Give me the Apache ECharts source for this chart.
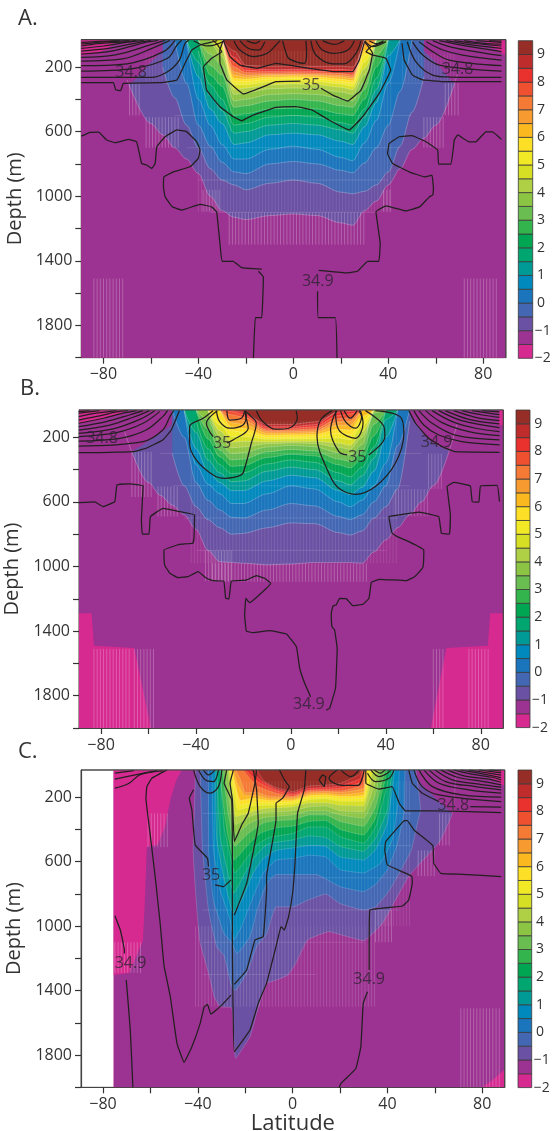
<!DOCTYPE html>
<html><head><meta charset="utf-8"><style>html,body{margin:0;padding:0;background:#fff}#c{width:552px;height:1131px}</style>
<script src="https://cdn.jsdelivr.net/npm/echarts@6/dist/echarts.min.js"></script></head><body><div id="c"></div>
<script>
const s=31;
const bandLows=[-2,-1.5,-1,-0.5,0,0.5,1,1.5,2,2.5,3,3.5,4,4.5,5,5.5,6,6.5,7,7.5,8,8.5,9];
const bandColors=['#d62a91','#9c3291','#6a51a3','#4367b3','#1a75bc','#0089bd','#009a96','#00a670','#00a651','#33b44c','#6abd50','#8cc543','#afcf45','#d7df25','#f2e926','#fde025','#fbb81f','#f79a2f','#f47a35','#ef5030','#e9312d','#bf2c2c','#962d26'];
const levels=[-1,-0.5,0,0.5,1,1.5,2,2.5,3,3.5,4,4.5,5,5.5,6,6.5,7,7.5,8,8.5,9];
const xTicks=[-80,-60,-40,-20,0,20,40,60,80], xLabels=[-80,-40,0,40,80];
const yTicks=[200,400,600,800,1000,1200,1400,1600,1800,2000], yLabels=[200,600,1000,1400,1800];
const cbLabels=[-2,-1,0,1,2,3,4,5,6,7,8,9];
const gridLat=[-70,-60,-55,-50,-45,-40,-35,-30,-25,-20,-10,0,10,20,25,30,35,40,45,50,55,60,70];

// isotherm depth (m) on gridLat, first entry = index of first latitude
const isoA=[
[0,280,550,620,700,770,860,1000,1090,1130,1145,1120,1110,1120,1165,1180,1090,1030,930,830,710,640,560,200],
[2,200,390,560,700,830,900,930,960,920,900,920,975,985,970,930,850,690,480,260],
[3,s,300,560,690,790,850,860,800,785,800,840,855,795,700,560,350,s],
[4,s,400,560,680,770,770,710,690,710,760,780,670,530,300,s],
[4,s,260,460,550,680,670,620,610,620,660,680,570,420,130,s],
[4,s,170,380,470,610,600,560,550,560,590,610,510,340,s],
[5,100,310,400,560,550,510,500,510,545,560,460,270,s],
[5,s,250,320,500,490,460,455,460,490,500,400,200,s],
[5,s,190,250,450,440,410,400,410,440,450,340,130,s],
[5,s,120,190,410,400,370,365,370,395,410,290,s],
[6,s,135,370,360,335,330,335,355,370,250,s],
[6,s,95,340,330,310,305,310,325,340,210,s],
[7,55,310,310,290,285,290,305,320,170,s],
[7,s,290,290,275,270,275,290,300,130,s],
[7,s,270,275,262,260,262,275,285,100,s],
[7,s,250,262,252,250,252,262,272,70,s],
[7,s,230,250,247,245,247,252,262,s],
[7,s,200,235,237,235,237,240,250,s],
[7,s,170,220,228,225,228,228,235,s],
[7,s,140,205,217,215,217,215,220,s],
[7,s,100,190,196,194,196,195,200,s]];
const isoB=[
[0,170,480,560,620,680,770,900,970,975,980,990,985,975,975,975,980,910,835,760,680,600,500,120],
[3,300,500,630,710,760,800,795,760,730,735,790,805,780,700,630,520,100],
[3,s,200,480,590,650,695,700,650,610,625,690,710,680,600,500,250,s],
[4,s,370,490,550,610,610,550,500,520,600,630,590,500,360,s],
[4,s,270,410,480,530,530,470,435,450,530,555,510,410,200,s],
[4,s,170,340,420,475,470,410,385,400,470,495,440,330,90,s],
[5,100,270,370,425,420,365,340,355,420,445,385,260,s],
[5,s,210,320,380,375,325,305,315,370,390,335,190,s],
[5,s,150,280,340,335,290,275,285,335,350,290,120,s],
[5,s,90,235,300,295,260,250,258,295,310,245,50,s],
[6,s,195,265,260,240,235,238,262,275,200,s],
[6,s,160,230,225,228,225,225,235,250,165,s],
[6,s,125,195,195,212,210,210,205,215,130,s],
[6,s,90,160,170,200,200,197,175,185,100,s],
[7,s,135,145,187,185,182,150,155,70,s],
[7,s,110,120,175,175,170,125,125,s],
[7,s,90,95,165,165,160,105,100,s],
[7,s,60,75,155,155,148,85,80,s],
[7,s,40,60,145,145,135,65,55,s],
[8,s,45,135,135,122,45,40,s],
[9,s,120,120,105,s]];
// panel C: lat,depth pairs
const isoC=[
[-41,31,-41.5,300,-42,527,-40.4,900,-39,1105,-35.5,1290,-33,1440,-30.6,1500,-25.7,1507,-24,1820,-18,1687,-15,1532,-11,1355,-7,1335,-2,1303,1.4,1230,6.3,1086,15.4,1034,22,1060,30,1090,38,980,49,690,59,527,62.5,465,67.4,300,69,60],
[-39,31,-38,527,-35.5,900,-32,1130,-29,1180,-25.7,1375,-24.3,1400,-19,1280,-15,1120,-11,1050,-7,880,0,880,7,835,14,800,20,860,30,900,35,880,41,775,50,530,53,340,54,280,52,31],
[-35.5,31,-35.5,527,-33.4,840,-29,1045,-25.7,1100,-24.3,1150,-23.6,1170,-18,1065,-15,900,-11,735,-7,680,0,680,10,680,20,755,30,785,35,740,40,650,44,500,47,300,47.4,31],
[-34,31,-33.4,527,-30.6,775,-26.4,960,-24.7,1085,-21.5,1000,-16.6,815,-12.4,670,-7,590,0,580,7,560,14,570,20,650,30,670,37,610,42,465,44.5,235,45,31],
[-32.7,31,-32,465,-28.5,735,-25,920,-21.5,840,-16.6,670,-12.4,580,-7,530,0,515,7,500,14,505,20,570,30,590,35,525,40,360,43,31],
[-32,31,-30.6,445,-27,690,-24.7,795,-20.8,690,-16,570,-11,495,-7,480,0,465,7,440,14,450,20,505,30,535,35,455,40,280,42,31],
[-30.6,31,-29,380,-25.7,610,-24.3,670,-20,590,-15,495,-10,450,0,425,7,385,14,385,20,445,30,485,35,385,40,120,41,31],
[-30.3,31,-30,150,-27.8,400,-24.6,590,-19.4,505,-13.8,425,-7,390,0,380,7,350,14,345,20,400,30,435,35,330,40,31],
[-29.5,31,-29,100,-27,320,-24.3,505,-18.7,425,-12.4,360,-7,345,0,340,7,310,14,310,20,350,30,380,35,260,39,31],
[-28.5,31,-28,100,-26,300,-24,430,-18,360,-12,325,0,310,7,285,14,285,20,310,30,330,35,180,37,31],
[-27.5,31,-25.5,270,-24,370,-18,320,-12,295,0,285,7,260,14,255,20,285,30,290,35,100,36,31],
[-27,31,-25,220,-24,320,-17,290,-12,270,0,260,7,235,14,235,20,250,30,255,34,31],
[-26.5,31,-24.5,200,-23,280,-17,255,-12,250,0,245,7,215,14,210,20,225,30,225,33,31],
[-26,31,-24,160,-22,250,-16,230,-10,235,0,230,7,200,14,200,20,210,30,205,32,31],
[-25.5,31,-24,130,-22,220,-16,205,-10,220,0,220,7,190,14,185,20,195,30,185,31,31],
[-25,31,-23.5,110,-20,190,-15,190,-10,210,0,210,7,180,14,175,20,185,30,165,31,31],
[-24,31,-22,90,-20,170,-15,170,-10,195,0,200,7,170,14,165,20,170,30,145,30.5,31],
[-21,31,-15,130,-7,175,0,195,7,160,14,160,20,160,29.5,125,30,31],
[-20,31,-14,110,-7,160,0,185,7,155,14,150,20,145,29,105,29.8,31],
[-18,31,-13,100,-7,150,0,175,7,145,14,140,20,130,28.5,85,29.5,31],
[-15,31,-12,100,-7,140,0,165,7,130,14,125,20,115,28,60,29,31]];

// coldest water outline and purple / pink patches
const baseA=[-89.3,2000,89.5,2000], baseB=[-89.3,2000,89.5,2000], baseC=[-75.5,2000,89.5,2000];
const coldA=[-89.3,2000,89.5,2000];
const coldB=[-89.3,1290,-84,1290,-83,1490,-66,1505,-59,2000,59,2000,65.5,1505,83,1490,84,1290,89.5,1290];
const coldC=[-75.5,2000,80,2000,84,1960,89.5,1890];
const pinkOverC=[[-75.5,1303,-69,1290,-63.2,1090,-62.5,900,-61.5,507,-57,496,-53.8,383,-51.6,216,-49,90,-46.7,31]];
const capsA=[[-71,300,-69,300,-60,170,-52,60,-48,31],[48,31,52,60,60,170,68.5,300,71,300]];
const capsB=[[-71,300,-67.2,289,-59.5,217,-49.7,113,-48.3,31],[49.7,31,51,72,56.7,196,64.4,270,71,290]];
const capsC=[[50,31,53,100,60,200,67.4,300,70,310]];
const pinkTopA=[[-89.3,130,-80,100,-74,31],[80,31,89.5,130]];
const pinkTopB=[[-89.3,110,-80,90,-68,31],[87.6,125,89.5,125]];
const pinkTopC=[[78,31,89.5,130]];

// salinity contours: lat,depth pairs
const deepA=[
[-89.3,628,-85.6,605,-82,603,-78.6,652,-75,669,-69.5,648,-66,663,-63.9,797,-61.8,807,-59.6,828,-58.2,797,-57.5,694,-54,632,-49,590,-45,600,-40.7,663,-39.3,714,-40,766,-43.5,818,-50.5,849,-54.5,880,-54.7,942,-54,1004,-51,1066,-47,1086,-39.3,1051,-34.4,1066,-32.3,1097,-30.9,1293,-30,1403,-25.3,1403,-21.8,1442,-13.3,1452],
[-14.7,1465,-12.6,1500,-13.3,1752,-16,1752,-16.8,2002],
[18.4,2002,17.7,1752,10.5,1752,10.2,1589],
[10.7,1460,22,1475,27,1465,31.3,1403,36,1403,36.6,1293,34.8,1097,39,1060,47.5,1091,53.2,1066,57.3,1004,58.7,993,59,950,58.4,870,55.2,880,48.8,849,41.8,797,39.7,735,40.4,673,44.6,632,50,625,55.9,663,60.8,714,61.2,801,66.4,801,67.8,652,69.2,621,74,663,76.9,663,81.1,601,83.9,601,87.7,648],
[-89.3,297,-75.8,297,-74.8,342,-72.7,347,-71.6,301,-56,297,-49,280,-45.6,177,-42.8,95,-39.3,64,-32,37],
[45.8,53,46.7,157,50.2,250,54.5,280,63,290,87.7,290],
[-37.9,198,-36.5,343,-30.9,446,-25.3,508,-21.8,533,-16.8,497,-7.3,450,1,446,8,467,15,528,23.6,590,29.2,508,36.2,363,41,219,39,146,33.4,126,30.6,105,32.7,74,38,44],
[-37.9,198,-34.4,146,-30.2,105,-32,60,-34,35],
[-30.9,177,-28,280,-21,367,-12.6,322,-7.3,291,3,288],
[11.6,332,16.6,374,22.9,411,28.5,343,32,219,33.4,115,30,43],
[-30.9,177,-31,100,-29.5,37,-26.7,136,-22.5,188,-15.4,208,-7.3,177,-1,190,6.7,208,18,229,25,229,27.8,157,30,43]];
const curvesA=[
[-25,37,-22.5,95,-16.8,136,-11,115,-7.3,64,-5.6,37],[-22.5,37,-19,84,-14.7,95,-12,43],[-19.6,37,-16,53,-14,37],
[-4.5,37,-3,115,-1.7,150,4.6,177,5.6,120,5.3,37],[7.4,37,9.5,126,16.6,180,21.5,180,26.4,115,28.5,37],[9.5,37,12.3,95,17.3,115,23,95,25.7,37],[12.3,37,17.3,60,21.5,37],
[-42,37,-36,70,-32,58,-29,37],[30,37,33.4,74,39,43],[32,37,35,55,38,37],
[-89.3,264,-60,264,-53,229,-48,157,-45.6,53,-44,35],[-89.3,225,-67,208,-53,146,-49,64,-47,35],[-89.3,192,-70,180,-54.7,105,-49.8,35],[-89.3,163,-72,150,-58,75,-52,35],[-89.3,140,-75,125,-60,62,-54,35],[-89.3,120,-76,100,-63,50,-57,35],[-89.3,101,-78,85,-66,50,-60,35],[-89.3,85,-80,70,-69,45,-63,35],[-89.3,70,-82,55,-71,45,-66,35],[-89.3,58,-84,50,-74,40,-69,35],[-89.3,48,-82,42,-73,35],
[48,44,51.6,167,58.7,250,66,262,87.7,264],[50.2,44,54.5,126,61.5,188,87.7,225],[53,44,58.7,105,65.7,157,87.7,192],[56,44,63,95,71.3,126,87.7,157],[58.7,37,65.7,74,74,98,87.7,130],[61.5,37,68.5,58,77,80,87.7,105],[64.3,37,72.7,58,87.7,85],[67.8,37,75.5,53,87.7,70],[72,37,80,53,87.7,58],[77,37,87.7,48],[82.5,37,87.7,40]];
const deepB=[
[-89.4,605,-82.7,600,-79.2,629,-74.2,598,-73.3,495,-67.9,489,-62.3,501,-63,712,-62.6,799,-59.8,799,-59.2,691,-53.9,640,-46.9,660,-40.6,681,-40.8,815,-41.3,856,-46.9,863,-53.5,898,-53.2,991,-51,1042,-47.6,1069,-43.4,1063,-39.1,1032,-35.6,1073,-32.8,1088,-28.3,1090,-27.5,1197,-26.1,1201,-25.1,1090,-18.8,1084,-14.6,1057,-11.1,1073,-8.5,1104,-17.4,1224,-19,1197,-19.5,1300,-18.8,1399,-16,1410,-9,1397,-1.9,1418,2.3,1496,3.7,1630,5.8,1723,8.3,1806],
[14.9,1889,16.3,1878,18.8,1754,19.5,1507,18.4,1393,17.3,1373,17,1290,17.7,1245,19.1,1238,20.5,1197,23.3,1199,26.1,1243,30.4,1234,32.9,1197,33.9,1098,37.4,1079,48.6,1088,52.1,1063,54.2,1032,55.7,1001,56,898,49.7,846,44.8,815,42.7,794,42,753,41.3,691,45.5,681,53.9,664,62.3,691,63.4,794,66.8,799,67.2,681,65.8,505,68.6,479,75.6,501,76.4,598,79.2,602,79.9,501,86.9,497,87.9,598],
[-89.4,295,-80.6,295,-66.5,289,-61,268,-54,217,-50.4,155,-48.3,82,-47,35],
[49.7,35,52.5,113,58,206,63.7,258,69.3,289,87.9,293]];
const curvesB=[
[-32.8,35,-37,82,-42.7,134,-42.7,237,-39.9,340,-32.8,433,-27.9,454,-20.9,433,-19.5,392,-16.7,237,-14.6,113,-17.4,62,-19.5,35],
[-31,35,-35.6,113,-32.8,196],[-27,235,-24.4,217,-18,144,-19,70,-19.5,35],
[-31.4,35,-30,103,-25.8,144,-20.2,124,-18.8,60,-19.5,35],[-27,35,-25.8,93,-20.9,82,-19.5,35],
[-14.6,35,-11.8,103,-6.5,150,-0.8,144,2.7,82,2.2,35],
[17.4,35,12.5,93,11,196,16,423,20.2,516,27.2,553,35.6,505,44,361,47.6,175,46,72,35.6,35],
[31.4,35,39.2,134,39.6,196,32.8,309],[23.7,309,20.2,289,16.7,155,18,72,19.5,35],
[18.8,35,20.2,155,27.2,206,30.4,113,29.3,35],[20.9,35,23,103,27.2,144,29.8,72,28.6,35],[22.4,35,25,82,27.9,35],
[-89.4,254,-62.3,227,-54,155,-51,72,-49.4,35],[-89.4,223,-72,206,-61,155,-54,72,-52,35],[-89.4,196,-73.5,171,-62.3,113,-55.3,41],[-89.4,175,-75,148,-63.7,89,-57.4,35],[-89.4,155,-76.4,124,-66.5,76,-59.5,35],[-89.4,134,-77.8,103,-68,62,-62.3,35],[-89.4,113,-79,82,-70.7,51,-65,35],[-89.4,93,-80.6,68,-73.5,43,-68.6,35],[-89.4,72,-82,51,-73.5,35],[-89.4,51,-80.6,35],[-89.4,41,-84.8,35],
[51.8,35,56,124,62.3,186,72,227,87.9,247],[53.9,35,59.5,113,69.3,186,87.9,216],[56.7,35,63.7,109,75,165,87.9,190],[59.5,35,68,103,77.8,144,87.9,165],[62.3,35,72,97,87.9,140],[65,35,75,89,87.9,117],[68.6,35,77.8,76,87.9,97],[72,35,80.6,62,87.9,76],[76.3,35,83.4,51,87.9,60],[80.6,35,87.9,43]];
const deepC=[
[-75,935,-72.7,1024,-71,1148,-71,1169],[-70.2,1334,-68.5,1645,-67.4,2000],
[-53,30,-59.4,82,-61.5,134,-61.9,206,-60,444,-58,693,-55.9,982,-54.9,1148,-54.2,1252,-51.6,1438,-48.8,1728,-45.8,1846,-42.5,1748,-39,1603,-37.3,1500,-35.9,1486,-34.5,1546,-29.9,1490,-26,1428],
[-41.8,154,-43.6,206,-42.5,279,-41.1,496,-35.9,579,-35.5,630],[-32.7,744,-29.2,755,-26,713],
[-25,30,-26.4,113,-25.4,217,-24.6,475,-21.5,372,-18.7,299,-15.9,113,-15.2,30],
[-24.6,931,-19.4,734,-14.5,361,-15.2,154,-16.6,30],
[-24.6,1361,-19.4,1272,-15.9,1086,-12.4,1065,-11,775,-11,693,-7,341,-7,237,-4.2,206,-1.4,134,-3.5,92,-5.6,30],
[5.6,30,4.9,154,2.1,299,1,610,0,796,-1.7,941,-3.5,1024,-4.9,1003,-7,1127,-11,1355,-14.5,1479,-18,1645,-24.6,1779,-25.4,1086,-25.4,734,-25.7,217,-28.9,113,-27.8,30],
[12.6,61,11.2,92,13.3,134,14,72,12.6,61],
[30.9,30,30.9,113,36.5,150,42,134,45,237,47.7,285,60.4,285,88,295],
[47,345,39.3,475,38.9,527,40,620,50.2,689,50.5,734,49,838,46.3,875,32.6,900,32.3,1148,32.3,1272],
[31.6,1407,29.8,1479,28.8,1748,26.7,1883,20.4,1976,19.6,2003],
[47,345,48.4,345,51.2,403,59.2,500,59.6,610,62.5,672,71.6,678,88,693],
[49,30,50.5,113,54.7,175,61.8,227],[75,258,88,262]];
const curvesC=[
[-75,51,-67,35],[-75,88,-64.3,55,-57.3,35],[-75,144,-69,113,-64.3,60,-54.6,35],
[-41.8,30,-39,134,-34.8,175,-31.3,134,-29.9,30],[-39.7,30,-36.9,92,-33.4,103,-31.3,30],[-37.6,30,-35.5,61,-32.7,30],
[19,30,15.4,82,21,127,27.4,127,30.2,30],[20.3,30,24.6,72,28,30],
[31.6,51,35,103,40.7,82,42.8,30],[33,30,36.5,72,40,51,41.4,30],[34.4,30,37,50,39,30],
[51.2,30,54.7,134,61.8,186,88,227],[53.3,30,59,134,71.6,186,88,200],[55.4,30,61.8,113,74.4,154,88,175],[57.5,30,64.6,103,77.2,134,88,154],[60,30,67.4,92,78.6,119,88,138],[62.5,30,69.5,76,80.7,103,88,123],[65.3,30,72.3,67,82.8,88,88,107],[68,30,75,55,84.2,76,88,92],[70.9,30,78.6,51,88,78],[74.4,30,81.4,47,88,63],[78.6,30,88,49],[82.8,30,88,36]];

const labelsA=[[-68.3,235,'34.8'],[69.2,214,'34.8'],[7.5,312,'35'],[10.3,1525,'34.9']];
const labelsB=[[-79.6,205,'34.8'],[-29,235,'35'],[28,326,'35'],[61.4,230,'34.9'],[7.6,1857,'34.9']];
const labelsC=[[-34.4,683,'35'],[-68.4,1231,'34.9'],[32.3,1329,'34.9'],[67.8,248,'34.8']];

// pale grid texture regions: lat0,lat1,depth0,depth1,opacity
const hatchA=[[-69,-64,300,500,.3],[-62,-48,510,700,.3],[-40,42,100,1100,.14],[-38,-31,960,1095,.3],[-27,30,1100,1300,.3],[38,41,960,1095,.3],[-84,-71,1510,2000,.3],[72,86.5,1510,2000,.3],[64,70,300,500,.3],[55,64,510,700,.3],[-62,-44,120,290,.12],[46,68,120,290,.12]];
const hatchB=[[-67,-58,290,570,.3],[-56,-47,505,690,.3],[-42,45,100,980,.14],[-36,-25,900,1090,.3],[-33,33,980,1095,.3],[-83,-68,1510,2000,.3],[-66,-57,1510,2000,.3],[60,65,1510,2000,.3],[75,84,1510,2000,.3],[58,64,300,520,.25],[44,58,520,690,.25]];
const hatchC=[[-61,-52,300,510,.3],[-75,-63,1100,1290,.3],[-33,50,100,1000,.14],[-41,35,1000,1500,.2],[35,42,900,1100,.3],[53,60,530,690,.3],[62,67,300,500,.3],[71,88,1510,2000,.3]];
const rowsA=[[-55,55,300],[-50,50,500],[-45,45,700],[-40,40,900],[-35,35,1100]];
const rowsB=[[-55,55,300],[-50,50,500],[-45,45,700],[-40,40,900]];
const rowsC=[[-38,50,300],[-38,50,500],[-38,50,700],[-38,45,900],[-38,30,1100],[-38,10,1300]];

const pairs=f=>{const o=[];for(let i=0;i<f.length;i+=2)o.push([f[i],f[i+1]]);return o};
const gridRow=r=>r.slice(1).map((d,i)=>[gridLat[r[0]+i],d]);
const fontF='"Open Sans","Noto Sans",sans-serif', txt='#333';
const panels=[
 {g:{left:81.3,top:39.7,width:424.5,height:318},cb:{left:518.3,top:40.7,width:14.4,height:317.6},iso:isoA.map(gridRow),base:baseA,cold:coldA,over:[],caps:capsA,pink:pinkTopA,deep:deepA,curves:curvesA,labels:labelsA,hatch:hatchA,rows:rowsA},
 {g:{left:79,top:410,width:424.3,height:318},cb:{left:516,top:410,width:14,height:317.6},iso:isoB.map(gridRow),base:baseB,cold:coldB,over:[],caps:capsB,pink:pinkTopB,deep:deepB,curves:curvesB,labels:labelsB,hatch:hatchB,rows:rowsB},
 {g:{left:81,top:770,width:423.7,height:317.3},cb:{left:518,top:770,width:13.7,height:317.6},iso:isoC.map(pairs),base:baseC,cold:coldC,over:pinkOverC,caps:capsC,pink:pinkTopC,deep:deepC,curves:curvesC,labels:labelsC,hatch:hatchC,rows:rowsC}
];
const grid=[],xAxis=[],yAxis=[],series=[];
const minus=v=>String(v).replace('-','\u2212');
panels.forEach((p,k)=>{
 const a=k*2,b=k*2+1;
 grid.push({...p.g,outerBoundsMode:'none',show:true,backgroundColor:'#fff',borderColor:'#555',borderWidth:1});
 grid.push({...p.cb,outerBoundsMode:'none'});
 xAxis.push({gridIndex:a,type:'value',min:-89.3,max:89.5,splitLine:{show:false},
   axisLine:{onZero:false,lineStyle:{color:'#444',width:1.2}},
   axisTick:{customValues:xTicks,length:6,lineStyle:{color:'#333',width:1.2}},
   axisLabel:{customValues:xLabels,formatter:minus,color:txt,fontFamily:fontF,fontSize:16,margin:9},
   name:k===2?'Latitude':'',nameLocation:'middle',nameGap:24,nameTextStyle:{fontFamily:fontF,fontSize:22,color:txt,verticalAlign:'top',lineHeight:22}});
 yAxis.push({gridIndex:a,type:'value',inverse:true,min:31,max:2000,splitLine:{show:false},
   axisLine:{onZero:false,lineStyle:{color:'#444',width:1.2}},
   axisTick:{customValues:yTicks,length:6,lineStyle:{color:'#333',width:1.2}},
   axisLabel:{customValues:yLabels,formatter:v=>String(v),color:txt,fontFamily:fontF,fontSize:16,margin:9},
   name:'Depth (m)',nameLocation:'middle',nameGap:47,nameTextStyle:{fontFamily:fontF,fontSize:20,color:txt}});
 xAxis.push({gridIndex:b,type:'value',min:0,max:1,show:false});
 yAxis.push({gridIndex:b,type:'value',min:-2,max:9.5,position:'right',splitLine:{show:false},
   axisLine:{show:false},axisTick:{show:false},
   axisLabel:{customValues:cbLabels,formatter:v=>v<0?'\u2212'+(-v):'\u2009'+v,color:txt,fontFamily:fontF,fontSize:14,margin:2}});
 const area=(data,color,line,opts)=>series.push({type:'line',xAxisIndex:a,yAxisIndex:a,data,showSymbol:false,silent:true,
   smooth:false,areaStyle:{origin:'start',color,opacity:1},
   lineStyle:line?{color:k===2?'rgba(255,255,255,.24)':'rgba(255,255,255,.34)',width:.7}:{width:0},...(opts||{})});
 area(pairs(p.base),bandColors[0],false);
 area(pairs(p.cold),bandColors[1],false);
 p.over.forEach(o=>area(pairs(o),bandColors[0],false));
 p.iso.forEach((d,i)=>{
   const ci=bandLows.indexOf(levels[i]);
   area(d,bandColors[ci],true,k===2?{smooth:0.12}:{smooth:0.3,smoothMonotone:'x'});
   if(i===0)p.caps.forEach(o=>area(pairs(o),bandColors[1],false,{smooth:.2}));
 });
 p.pink.forEach(o=>area(pairs(o),bandColors[0],false,{smooth:.3}));
 // pale texture: one broken line per region
 p.hatch.forEach(h=>{
   const d=[];
   for(let la=h[0];la<=h[1];la+=1.35){d.push([la,h[2]],[la,h[3]],[la,null])}
   series.push({type:'line',xAxisIndex:a,yAxisIndex:a,data:d,showSymbol:false,silent:true,connectNulls:false,lineStyle:{color:'rgba(255,255,255,'+h[4]+')',width:.8}});
 });
 const rowData=[];
 p.rows.forEach(r=>rowData.push([r[0],r[2]],[r[1],r[2]],[r[1],null]));
 series.push({type:'line',xAxisIndex:a,yAxisIndex:a,data:rowData,showSymbol:false,silent:true,connectNulls:false,lineStyle:{color:'rgba(255,255,255,.16)',width:.8}});
 const cont=(f,sm)=>series.push({type:'line',xAxisIndex:a,yAxisIndex:a,data:pairs(f),showSymbol:false,silent:true,smooth:sm,lineStyle:{color:'#231f20',width:1.25}});
 p.deep.forEach(f=>cont(f,.08));
 p.curves.forEach(f=>cont(f,.35));
 // frame on top of the fill
 series.push({type:'line',xAxisIndex:a,yAxisIndex:a,data:[[-89.3,31],[89.5,31],[89.5,2000]],showSymbol:false,silent:true,clip:false,lineStyle:{color:'#444',width:1.2}});
 series.push({type:'scatter',xAxisIndex:a,yAxisIndex:a,data:p.labels,symbolSize:0,silent:true,z:5,
   label:{show:true,position:'inside',formatter:q=>q.data[2],fontFamily:fontF,fontSize:16,color:'#2d2330'}});
 series.push({type:'custom',xAxisIndex:b,yAxisIndex:b,silent:true,data:bandLows.map((l,i)=>[l,bandColors[i]]),encode:{y:0},clip:false,
   renderItem:(pm,api)=>{const low=api.value(0),u=api.coord([0,low+.5]),v=api.coord([1,low]);
     return {type:'rect',shape:{x:u[0],y:u[1],width:v[0]-u[0],height:v[1]-u[1]},style:{fill:bandColors[pm.dataIndex],stroke:'#3a3a3a',lineWidth:.8}}}});
});
const title=[['A.',18,8],['B.',20,378],['C.',18,741]].map(t=>({text:t[0],left:t[1],top:t[2],padding:0,textStyle:{fontFamily:fontF,fontSize:22,fontWeight:'normal',color:txt}}));
echarts.init(document.getElementById('c'),null,{renderer:'canvas'}).setOption({animation:false,backgroundColor:'#fff',title,grid,xAxis,yAxis,series});
</script></body></html>
